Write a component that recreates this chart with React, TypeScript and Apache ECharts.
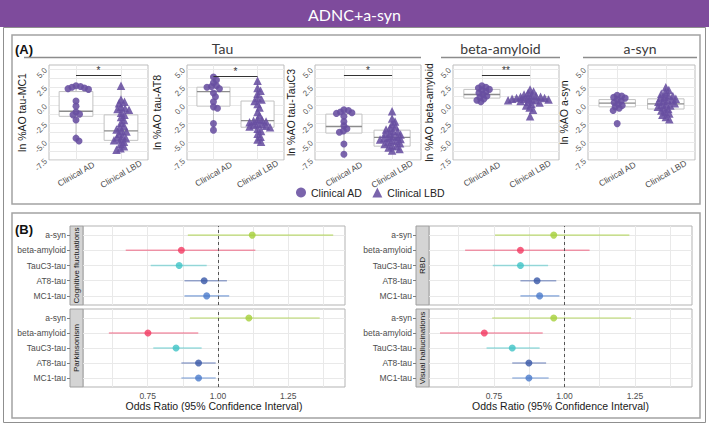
import React, { useEffect, useRef } from 'react';
import * as echarts from 'echarts';

// ---------- Panel A data ----------
const groups = ['Clinical AD', 'Clinical LBD'];
const yTitles = ['ln %AO tau-MC1', 'ln %AO tau-AT8', 'ln %AO tau-TauC3', 'ln %AO beta-amyloid', 'ln %AO a-syn'];
const yTicks = [-7.5, -5, -2.5, 0, 2.5, 5];
const yGrid = [-7.5, -6.25, -5, -3.75, -2.5, -1.25, 0, 1.25, 2.5, 3.75, 5];

const mc1AD = [2.7, 2.6, 2.5, 2.4, 2.3, 2.2, 0.6, -0.1, -0.9, -1.2, -1.3, -2.0, -4.5, -4.9];
const mc1LBD = [2.7, 0.8, 0.5, 0.3, -0.2, -0.4, -0.5, -0.6, -1.0, -1.3, -1.6, -2.0, -2.4, -2.8, -3.0, -3.3, -3.5, -3.6, -3.9, -4.2, -4.4, -4.5, -4.7, -4.8, -5.0, -5.3, -5.6, -5.9, -6.1];
const at8AD = [3.9, 3.5, 3.1, 2.7, 2.6, 2.5, 2.3, 1.7, 1.2, 0.5, -0.2, -0.4, -2.5, -3.4];
const at8LBD = [3.4, 2.4, 2.0, 1.6, 1.0, 0.8, 0.6, 0.2, -0.3, -0.9, -1.4, -1.9, -2.0, -2.1, -2.2, -2.3, -2.5, -2.6, -2.7, -2.8, -2.9, -3.0, -3.2, -3.5, -3.9, -4.3, -4.7, -5.0];
const tauc3AD = [-0.6, -0.7, -0.9, -1.0, -1.1, -1.5, -2.2, -2.8, -3.2, -3.5, -3.7, -5.3, -6.7];
const tauc3LBD = [-0.8, -1.8, -2.2, -2.6, -2.9, -3.1, -3.3, -3.5, -3.6, -3.8, -3.9, -4.0, -4.2, -4.3, -4.4, -4.5, -4.6, -4.7, -4.8, -4.9, -5.0, -5.2, -5.3, -5.5, -5.6, -5.8, -6.0, -6.2];
const abAD = [2.7, 2.5, 2.4, 2.2, 2.1, 1.9, 1.7, 1.5, 1.3, 1.1, 0.9, 0.7, 0.5];
const abLBD = [2.2, 1.9, 1.7, 1.5, 1.4, 1.3, 1.2, 1.2, 1.1, 1.0, 1.0, 0.9, 0.9, 0.8, 0.8, 0.7, 0.7, 0.6, 0.5, 0.4, 0.2, 0.0, -0.3, -0.6, -1.5];
const asynAD = [1.4, 1.3, 1.1, 1.0, 0.8, 0.6, 0.4, 0.2, 0.0, -0.2, -0.4, -0.7, -2.5];
const asynLBD = [2.5, 2.1, 1.8, 1.6, 1.4, 1.3, 1.2, 1.0, 0.9, 0.8, 0.7, 0.6, 0.5, 0.3, 0.2, 0.1, 0.0, -0.2, -0.3, -0.5, -0.7, -0.9, -1.1, -1.3, -1.6, -1.9];

// box stats: [lower whisker, Q1, median, Q3, upper whisker]
const mc1Box = [[-4.9, -1.5, -0.8, 1.9, 2.7], [-6.1, -4.8, -3.5, -1.3, 2.7]];
const at8Box = [[-3.4, -0.1, 1.9, 2.5, 3.9], [-5.0, -3.0, -2.1, 0.6, 3.4]];
const tauc3Box = [[-6.7, -3.8, -2.9, -1.2, -0.6], [-6.2, -5.6, -4.4, -3.4, -0.8]];
const abBox = [[0.5, 1.0, 1.5, 2.2, 2.7], [-0.6, 0.6, 0.85, 1.2, 2.2]];
const asynBox = [[-0.7, -0.2, 0.3, 0.8, 1.4], [-1.9, -0.5, 0.2, 0.9, 2.5]];

const sigY = [4.1, 4.0, 4.1, 4.1, null];
const sigLabels = ['*', '*', '*', '**', ''];

// ---------- Panel B data (order: MC1, AT8, TauC3, beta, a-syn; bottom -> top) ----------
const markers = ['MC1-tau', 'AT8-tau', 'TauC3-tau', 'beta-amyloid', 'a-syn'];
const facetNames = ['Cognitive fluctuations', 'Parkinsonism', 'RBD', 'Visual hallucinations'];
const cogOR = [0.960, 0.951, 0.862, 0.870, 1.122];
const cogLo = [0.881, 0.881, 0.761, 0.672, 0.893];
const cogHi = [1.040, 1.032, 0.960, 1.133, 1.410];
const parkOR = [0.931, 0.931, 0.851, 0.751, 1.110];
const parkLo = [0.870, 0.870, 0.770, 0.612, 0.900];
const parkHi = [0.992, 0.992, 0.942, 0.930, 1.362];
const rbdOR = [0.912, 0.903, 0.844, 0.844, 0.962];
const rbdLo = [0.844, 0.844, 0.746, 0.648, 0.754];
const rbdHi = [0.982, 0.971, 0.942, 1.089, 1.230];
const vhOR = [0.874, 0.874, 0.815, 0.716, 0.962];
const vhLo = [0.815, 0.815, 0.724, 0.559, 0.744];
const vhHi = [0.944, 0.935, 0.912, 0.923, 1.236];
const orTicks = [0.75, 1, 1.25];
const orGrid = [0.625, 0.75, 0.875, 1, 1.125, 1.25, 1.375];

// ---------- styles ----------
const FONT = "'Liberation Sans', Arial, sans-serif";
const TFONT = "Lato, 'Open Sans', sans-serif";
const PURPLE = '#684ea0';
const palette = ['#4a7bcc', '#3756a6', '#3ec3c6', '#f23a62', '#a5cf3a'];
const GRIDC = '#e9e9e9';

const panelAGrids = [
  { left: 49, width: 99, gap: 22 },
  { left: 187, width: 97, gap: 25 },
  { left: 315, width: 106, gap: 16 },
  { left: 453, width: 106, gap: 18 },
  { left: 588, width: 107, gap: 15 },
];
const A_TOP = 65, A_H = 95;
const panelBGrids = [
  { left: 83, top: 226, width: 262, height: 79 },
  { left: 83, top: 309, width: 262, height: 78 },
  { left: 429, top: 226, width: 263, height: 79 },
  { left: 429, top: 309, width: 263, height: 78 },
];

function swarmOffsets(vals: number[], pxY: number, pxX: number, spacing: number): number[] {
  const idx = vals.map((_, i) => i).sort((a, b) => vals[b] - vals[a]);
  const placed: { x: number; y: number }[] = [];
  const out = new Array(vals.length).fill(0);
  for (const i of idx) {
    const y = vals[i] * pxY;
    let pos = 0;
    for (let k = 0; k < 80; k++) {
      const cands = k === 0 ? [0] : [k * 0.5, -k * 0.5];
      const ok = cands.find((c) => placed.every((p) => (p.x - c) ** 2 + (p.y - y) ** 2 >= spacing * spacing));
      if (ok !== undefined) { pos = ok; break; }
    }
    placed.push({ x: pos, y });
    out[i] = pos / pxX;
  }
  return out;
}

export default function App() {
  const ref = useRef<HTMLDivElement>(null);
  useEffect(() => {
    if (!ref.current) return;
    const chart = echarts.init(ref.current, null, { renderer: 'svg' });

    const pointSets = [[mc1AD, mc1LBD], [at8AD, at8LBD], [tauc3AD, tauc3LBD], [abAD, abLBD], [asynAD, asynLBD]];
    const boxSets = [mc1Box, at8Box, tauc3Box, abBox, asynBox];
    const forest = [[cogOR, cogLo, cogHi], [parkOR, parkLo, parkHi], [rbdOR, rbdLo, rbdHi], [vhOR, vhLo, vhHi]];

    const grid: any[] = [];
    const xAxis: any[] = [];
    const yAxis: any[] = [];
    const series: any[] = [];
    const yMin = -7.5, yMax = 5.55;
    const pxY = A_H / (yMax - yMin);

    panelAGrids.forEach((g, i) => {
      grid.push({ left: g.left, top: A_TOP, width: g.width, height: A_H, show: true, borderColor: '#bdbdbd', borderWidth: 1, backgroundColor: 'transparent', containLabel: false });
      xAxis.push({
        type: 'value', gridIndex: i, min: 0.4, max: 2.6,
        axisLine: { show: false },
        axisTick: { show: false, customValues: [1, 2] },
        splitLine: { show: true, lineStyle: { color: GRIDC, width: 1 } },
        axisLabel: {
          customValues: [1, 2], formatter: (v: number) => groups[Math.round(v) - 1] || '',
          rotate: 30, align: 'center', verticalAlign: 'middle', margin: 14,
          fontSize: 8.5, color: '#4d4d4d', fontFamily: FONT,
        },
      });
      yAxis.push({
        type: 'value', gridIndex: i, min: yMin, max: yMax,
        name: yTitles[i], nameLocation: 'middle', nameGap: g.gap,
        nameTextStyle: { fontSize: 10.5, color: '#1a1a1a', fontFamily: FONT },
        axisLine: { show: false },
        axisTick: { show: false, customValues: yGrid },
        splitLine: { show: true, lineStyle: { color: GRIDC, width: 1 } },
        axisLabel: { customValues: yTicks, formatter: (v: number) => v.toFixed(1), rotate: 45, fontSize: 8, color: '#5a5a5a', margin: 3, fontFamily: FONT },
      });
      series.push({
        type: 'custom', xAxisIndex: i, yAxisIndex: i, z: 1, silent: true,
        data: boxSets[i].map((b, k) => [k + 1, ...b]),
        encode: { x: 0, y: [1, 2, 3, 4, 5] },
        renderItem: (params: any, api: any) => {
          const x = api.value(0);
          const lo = api.value(1), q1 = api.value(2), med = api.value(3), q3 = api.value(4), hi = api.value(5);
          const tl = api.coord([x - 0.375, q3]);
          const br = api.coord([x + 0.375, q1]);
          const m1 = api.coord([x - 0.375, med]);
          const m2 = api.coord([x + 0.375, med]);
          const pHi = api.coord([x, hi]);
          const pLo = api.coord([x, lo]);
          const st = { stroke: '#c2c2c2', lineWidth: 1 };
          return {
            type: 'group', children: [
              { type: 'line', shape: { x1: pHi[0], y1: pHi[1], x2: pHi[0], y2: tl[1] }, style: st },
              { type: 'line', shape: { x1: pLo[0], y1: pLo[1], x2: pLo[0], y2: br[1] }, style: st },
              { type: 'rect', shape: { x: tl[0], y: tl[1], width: br[0] - tl[0], height: br[1] - tl[1] }, style: { fill: '#ffffff', stroke: '#c2c2c2', lineWidth: 1 } },
              { type: 'line', shape: { x1: m1[0], y1: m1[1], x2: m2[0], y2: m2[1] }, style: { stroke: '#8c8c8c', lineWidth: 1.3 } },
            ],
          };
        },
      });
      const pxX = g.width / 2.2;
      pointSets[i].forEach((vals, k) => {
        const offs = swarmOffsets(vals, pxY, pxX, 4.1);
        const s: any = {
          type: 'scatter', name: groups[k], xAxisIndex: i, yAxisIndex: i, z: 3, silent: true,
          symbol: k === 0 ? 'circle' : 'triangle', symbolSize: k === 0 ? 7 : 8.5,
          itemStyle: { color: PURPLE, opacity: 0.88 },
          data: vals.map((v, j) => [k + 1 + offs[j], v]),
        };
        if (k === 0 && sigY[i] !== null) {
          s.markLine = {
            silent: true, symbol: 'none', animation: false,
            lineStyle: { color: '#333', width: 1, type: 'solid' },
            label: { show: true, position: 'middle', formatter: sigLabels[i], color: '#333', fontSize: 10, distance: 0, fontFamily: FONT },
            data: [[{ coord: [1, sigY[i]] }, { coord: [2, sigY[i]] }]],
          };
        }
        series.push(s);
      });
    });

    panelBGrids.forEach((g, j) => {
      const gi = 5 + j;
      const bottom = j === 1 || j === 3;
      grid.push({ left: g.left, top: g.top, width: g.width, height: g.height, show: true, borderColor: '#b3b3b3', borderWidth: 1, backgroundColor: 'transparent' });
      xAxis.push({
        type: 'value', gridIndex: gi, min: 0.52, max: 1.452,
        axisLine: { show: false },
        axisTick: { show: false, customValues: orGrid },
        splitLine: { show: true, lineStyle: { color: GRIDC, width: 1 } },
        axisLabel: { show: bottom, customValues: orTicks, formatter: (v: number) => v.toFixed(2), fontSize: 8.5, color: '#4d4d4d', margin: 4, fontFamily: FONT },
        name: bottom ? 'Odds Ratio (95% Confidence Interval)' : '',
        nameLocation: 'middle', nameGap: 11,
        nameTextStyle: { fontSize: 10.5, color: '#1a1a1a', fontFamily: FONT },
      });
      yAxis.push({
        type: 'value', gridIndex: gi, min: 0.4, max: 5.6, offset: 13,
        axisLine: { show: false },
        axisTick: { show: true, length: 3, customValues: [1, 2, 3, 4, 5], lineStyle: { color: '#7f7f7f' } },
        splitLine: { show: true, lineStyle: { color: GRIDC, width: 1 } },
        axisLabel: { customValues: [1, 2, 3, 4, 5], formatter: (v: number) => markers[Math.round(v) - 1] || '', fontSize: 8.5, color: '#4d4d4d', margin: 4, fontFamily: FONT },
      });
      const [or, lo, hi] = forest[j];
      series.push({
        type: 'custom', xAxisIndex: gi, yAxisIndex: gi, z: 2, silent: true,
        data: or.map((v, k) => [lo[k], hi[k], v, k + 1, k]),
        encode: { x: [0, 1, 2], y: 3 },
        renderItem: (params: any, api: any) => {
          const a = api.coord([api.value(0), api.value(3)]);
          const b = api.coord([api.value(1), api.value(3)]);
          return { type: 'line', shape: { x1: a[0], y1: a[1], x2: b[0], y2: b[1] }, style: { stroke: palette[api.value(4)], lineWidth: 1.6, opacity: 0.5 } };
        },
      });
      series.push({
        type: 'scatter', xAxisIndex: gi, yAxisIndex: gi, z: 3, silent: true, symbolSize: 7,
        data: or.map((v, k) => ({ value: [v, k + 1], itemStyle: { color: palette[k] } })),
        markLine: {
          silent: true, symbol: 'none', animation: false,
          lineStyle: { color: '#555', width: 1, type: [3, 3] },
          label: { show: false },
          data: [{ xAxis: 1 }],
        },
      });
    });

    const graphic: any[] = [
      { type: 'rect', shape: { x: 0, y: 0, width: 709, height: 27 }, style: { fill: '#7e4b9c' } },
      { type: 'text', x: 354.5, y: 14, style: { text: 'ADNC+a-syn', fill: '#ffffff', fontSize: 16, fontFamily: TFONT, align: 'center', verticalAlign: 'middle', textAlign: 'center', textVerticalAlign: 'middle' } },
      { type: 'rect', shape: { x: 3.5, y: 27.5, width: 702, height: 395 }, style: { fill: 'none', stroke: '#8f8f8f', lineWidth: 1 } },
      { type: 'rect', shape: { x: 12, y: 35, width: 688, height: 169 }, style: { fill: 'none', stroke: '#a3a3a3', lineWidth: 1.5 } },
      { type: 'rect', shape: { x: 12, y: 213, width: 688, height: 205 }, style: { fill: 'none', stroke: '#a3a3a3', lineWidth: 1.5 } },
      { type: 'text', x: 15, y: 49, style: { text: '(A)', fill: '#111', fontSize: 13, fontWeight: 'bold', fontFamily: FONT, verticalAlign: 'middle', textVerticalAlign: 'middle' } },
      { type: 'text', x: 15, y: 229, style: { text: '(B)', fill: '#111', fontSize: 13, fontWeight: 'bold', fontFamily: FONT, verticalAlign: 'middle', textVerticalAlign: 'middle' } },
    ];
    const headers = [
      { t: 'Tau', x1: 24, x2: 421 },
      { t: 'beta-amyloid', x1: 441, x2: 560 },
      { t: 'a-syn', x1: 583, x2: 697 },
    ];
    headers.forEach((h) => {
      graphic.push({ type: 'text', x: (h.x1 + h.x2) / 2, y: 48.5, style: { text: h.t, fill: '#3a3a3a', fontSize: 14, fontFamily: TFONT, align: 'center', verticalAlign: 'middle', textAlign: 'center', textVerticalAlign: 'middle' } });
      graphic.push({ type: 'line', shape: { x1: h.x1, y1: 57.5, x2: h.x2, y2: 57.5 }, style: { stroke: '#8c8c8c', lineWidth: 1.5 } });
    });
    panelBGrids.forEach((g, j) => {
      graphic.push({ type: 'rect', shape: { x: g.left - 13, y: g.top, width: 13, height: g.height }, style: { fill: '#d4d4d4', stroke: '#9e9e9e', lineWidth: 1 } });
      graphic.push({ type: 'text', x: g.left - 6.5, y: g.top + g.height / 2, rotation: Math.PI / 2, style: { text: facetNames[j], fill: '#1a1a1a', fontSize: 8, fontFamily: FONT, align: 'center', verticalAlign: 'middle', textAlign: 'center', textVerticalAlign: 'middle' } });
    });

    chart.setOption({
      animation: false,
      backgroundColor: '#ffffff',
      textStyle: { fontFamily: FONT },
      legend: {
        data: [{ name: 'Clinical AD', icon: 'circle' }, { name: 'Clinical LBD', icon: 'triangle' }],
        left: 291, top: 182, itemWidth: 10, itemHeight: 10, itemGap: 10, selectedMode: false,
        textStyle: { fontSize: 10.5, color: '#222', fontFamily: FONT },
      },
      grid, xAxis, yAxis, series, graphic,
    });
    return () => chart.dispose();
  }, []);
  return <div ref={ref} style={{ position: 'absolute', left: 0, top: 0, width: 709, height: 425 }} />;
}
